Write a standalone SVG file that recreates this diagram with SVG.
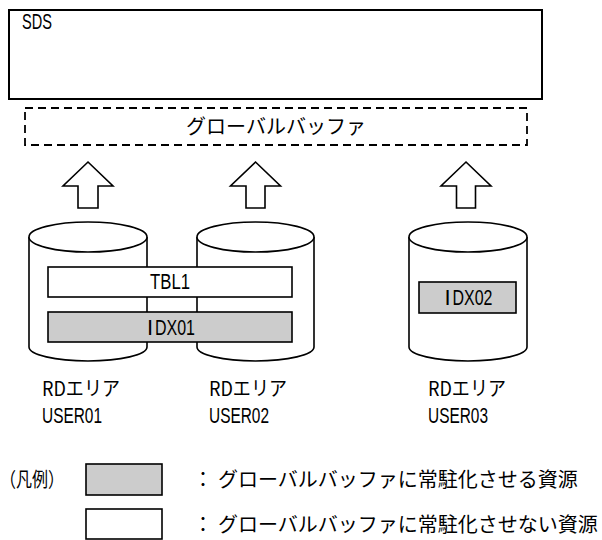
<svg xmlns="http://www.w3.org/2000/svg" width="602" height="540" viewBox="0 0 602 540">
<style>
.ln{fill:#fff;stroke:#000;stroke-width:1.6}
.gr{fill:#cccccc;stroke:#000;stroke-width:1.6}
.dash{fill:none;stroke:#000;stroke-width:1.8;stroke-dasharray:8 5}
.lat{font-family:"Liberation Sans",Arial,sans-serif;font-size:22px;fill:#000}
.jp{font-family:"Noto Sans CJK JP","Noto Sans CJK SC",sans-serif;font-size:20px;fill:#000}
.arrow{fill:#fff;stroke:#000;stroke-width:1.6;stroke-linejoin:miter}
</style>
<g id="sds">
<rect x="9" y="10" width="533" height="89" fill="#fff" stroke="#000" stroke-width="2"/>
<text class="lat" x="22" y="29" textLength="30" lengthAdjust="spacingAndGlyphs">SDS</text>
</g>
<g id="global-buffer">
<rect class="dash" x="25" y="108" width="502" height="37"/>
<text class="jp" x="276" y="134" text-anchor="middle">グローバルバッファ</text>
</g>
<g id="connectors">
<polygon class="arrow" points="88,162 113,186 98,186 98,208 78,208 78,186 63,186"/>
<polygon class="arrow" points="255.5,162 280.5,186 265,186 265,208 246,208 246,186 230.5,186"/>
<polygon class="arrow" points="466,162 491,186 475.5,186 475.5,208 456.5,208 456.5,186 441,186"/>
</g>
<g id="cyl-user01">
<path class="ln" d="M29,237 L29,347 A59,14 0 0 0 147,347 L147,237"/>
<ellipse class="ln" cx="88" cy="237" rx="59" ry="15"/>
<text class="jp" x="42" y="396" textLength="78" lengthAdjust="spacingAndGlyphs">RDエリア</text>
<text class="lat" x="42" y="423" textLength="60" lengthAdjust="spacingAndGlyphs">USER01</text>
</g>
<g id="cyl-user02">
<path class="ln" d="M197,237 L197,347 A58.5,14 0 0 0 314,347 L314,237"/>
<ellipse class="ln" cx="255.5" cy="237" rx="58.5" ry="15"/>
<text class="jp" x="209" y="396" textLength="78" lengthAdjust="spacingAndGlyphs">RDエリア</text>
<text class="lat" x="209" y="423" textLength="60" lengthAdjust="spacingAndGlyphs">USER02</text>
</g>
<g id="cyl-user03">
<path class="ln" d="M409,237 L409,347 A59,14 0 0 0 527,347 L527,237"/>
<ellipse class="ln" cx="468" cy="237" rx="59" ry="15"/>
<text class="jp" x="428" y="396" textLength="78" lengthAdjust="spacingAndGlyphs">RDエリア</text>
<text class="lat" x="428" y="423" textLength="60" lengthAdjust="spacingAndGlyphs">USER03</text>
</g>
<g id="tbl1">
<rect class="ln" x="48" y="267" width="244" height="30"/>
<text class="lat" x="170" y="289" text-anchor="middle" textLength="40" lengthAdjust="spacingAndGlyphs">TBL1</text>
</g>
<g id="idx01">
<rect class="gr" x="48" y="312" width="244" height="30"/>
<text class="lat" x="150" y="335" text-anchor="middle">I</text>
<text class="lat" x="155" y="335" textLength="40" lengthAdjust="spacingAndGlyphs">DX01</text>
</g>
<g id="idx02">
<rect class="gr" x="419" y="282" width="97" height="31"/>
<text class="lat" x="447.5" y="305" text-anchor="middle">I</text>
<text class="lat" x="452.5" y="305" textLength="40" lengthAdjust="spacingAndGlyphs">DX02</text>
</g>
<g id="legend">
<text class="jp" x="0" y="487" textLength="64" lengthAdjust="spacingAndGlyphs">（凡例）</text>
<rect class="gr" x="86" y="464" width="76" height="31"/>
<text class="jp" x="193" y="487">：<tspan x="218">グローバルバッファに常駐化させる資源</tspan></text>
<rect class="ln" x="86" y="509" width="76" height="30"/>
<text class="jp" x="193" y="532">：<tspan x="218">グローバルバッファに常駐化させない資源</tspan></text>
</g>
</svg>
